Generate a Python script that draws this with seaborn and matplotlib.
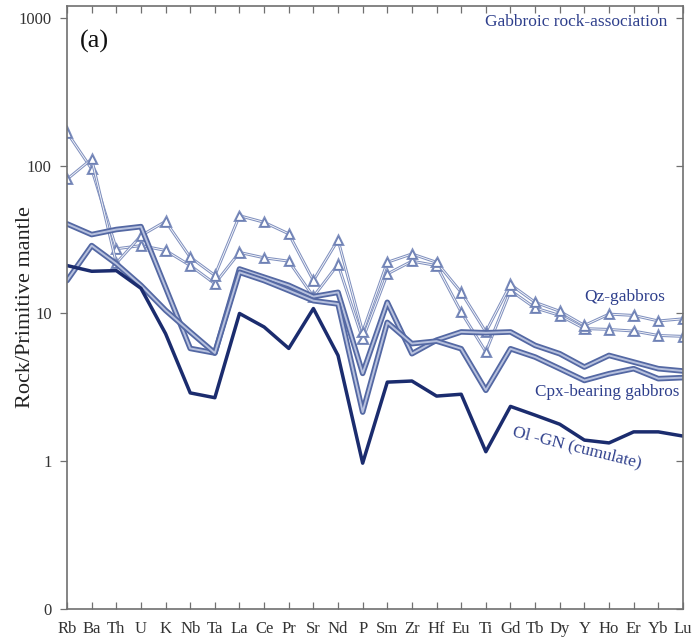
import numpy as np
import pandas as pd
import matplotlib
matplotlib.use("Agg")
import matplotlib.pyplot as plt
import matplotlib.patheffects as pe
import seaborn as sns

elements = ["Rb", "Ba", "Th", "U", "K", "Nb", "Ta", "La", "Ce", "Pr", "Sr", "Nd", "P",
            "Sm", "Zr", "Hf", "Eu", "Ti", "Gd", "Tb", "Dy", "Y", "Ho", "Er", "Yb", "Lu"]

qz_1 = [168, 95, 27.4, 28.8, 26.7, 21.1, 15.9, 25.9, 23.8, 22.6, 13.0, 21.5, 6.7,
        18.5, 22.6, 21.1, 10.2, 5.5, 14.3, 10.9, 9.7, 7.9, 7.8, 7.6, 7.1, 7.0]
qz_2 = [81, 111, 21.9, 33.6, 42, 24, 18.1, 45.9, 41.4, 34.6, 16.7, 31.5, 7.5,
        22.2, 25.3, 22.2, 13.9, 7.5, 15.7, 11.9, 10.35, 8.3, 9.9, 9.7, 8.9, 9.2]
cpx_1 = [40.4, 34.2, 37, 38.7, 15, 5.8, 5.4, 20, 17.6, 15.5, 13.0, 13.9, 3.93,
         11.9, 5.34, 6.6, 7.5, 7.4, 7.5, 6.08, 5.34, 4.34, 5.2, 4.69, 4.23, 4.08]
cpx_2 = [16.7, 28.8, 21.7, 15.5, 10.5, 7.5, 5.4, 19, 16.7, 14.3, 12.2, 11.6, 2.15,
         8.7, 6.25, 6.5, 5.77, 3.02, 5.77, 5.07, 4.23, 3.52, 3.91, 4.23, 3.62, 3.68]
ol_gn = [21.1, 19.3, 19.5, 14.8, 7.3, 2.9, 2.69, 10, 8.1, 5.8, 10.8, 5.2, 0.97,
         3.43, 3.49, 2.76, 2.84, 1.16, 2.35, 2.05, 1.78, 1.39, 1.33, 1.58, 1.58, 1.48]

ytick_vals = [0.1, 1, 10, 100, 1000]
ytick_labels = ["0", "1", "10", "100", "1000"]

sns.set_theme(style="white")
plt.rcParams["font.family"] = ["Liberation Serif", "DejaVu Serif"]

fig = plt.figure(figsize=(6.99, 6.38), dpi=100)
ax = fig.add_axes([0.0959, 0.0455, 0.977 - 0.0959, 0.9906 - 0.0455])

x = np.arange(len(elements))

def frame(vals, name):
    return pd.DataFrame({"x": x, "y": vals, "s": name})

# Qz-gabbros: thin double lines with open triangles
for vals, nm in [(qz_1, "q1"), (qz_2, "q2")]:
    sns.lineplot(data=frame(vals, nm), x="x", y="y", ax=ax, sort=False,
                 color="white", linewidth=0.6, marker="^", markersize=6,
                 markerfacecolor="white", markeredgecolor="#6d80b4",
                 markeredgewidth=0.9, estimator=None,
                 path_effects=[pe.Stroke(linewidth=2.1, foreground="#8191bf"), pe.Normal()])

# Cpx-bearing gabbros: thick double lines
for vals, nm in [(cpx_1, "c1"), (cpx_2, "c2")]:
    sns.lineplot(data=frame(vals, nm), x="x", y="y", ax=ax, sort=False,
                 color="#b7c1de", linewidth=1.4, estimator=None,
                 path_effects=[pe.Stroke(linewidth=4.0, foreground="#5468a3"), pe.Normal()])

# Ol-GN cumulate
sns.lineplot(data=frame(ol_gn, "ol"), x="x", y="y", ax=ax, sort=False,
             color="#1b2c6e", linewidth=2.5, estimator=None)

ax.set_yscale("log")
ax.set_ylim(0.1, 1205)
ax.set_xlim(0, len(elements) - 1)
ax.set_yticks(ytick_vals)
ax.set_yticklabels(ytick_labels)
ax.minorticks_off()
ax.set_xticks(x)
ax.set_xticklabels(elements)
ax.set_xlabel("")
ax.set_ylabel("Rock/Primitive mantle", fontsize=16, color="#222222")
ax.yaxis.set_label_coords(-0.052, 0.5)

for sp in ax.spines.values():
    sp.set_color("#707070")
    sp.set_linewidth(1.2)

ax.tick_params(axis="x", direction="in", length=5, width=0.9, color="#707070",
               top=True, bottom=True, labelsize=12, labelcolor="#333333", pad=8.5)
ax.tick_params(axis="y", which="both", direction="out", length=5, width=0.9,
               color="#707070", left=True, right=False, labelsize=12,
               labelcolor="#333333", pad=6)

ax_r = ax.twinx()
ax_r.set_yscale("log")
ax_r.set_ylim(ax.get_ylim())
ax_r.set_yticks(ytick_vals)
ax_r.minorticks_off()
ax_r.tick_params(axis="y", direction="in", length=5, width=0.9, color="#707070",
                 labelright=False, right=True)
ax_r.grid(False)
for sp in ax_r.spines.values():
    sp.set_visible(False)

txtc = "#2e3f8c"
ax.text(0.021, 0.942, "(a)", transform=ax.transAxes, fontsize=19, color="#111111",
        ha="left", va="center")
ax.text(0.975, 0.974, "Gabbroic rock-association", transform=ax.transAxes,
        fontsize=12.5, color=txtc, ha="right", va="center")
ax.text(21.0, 13.0, "Qz-gabbros", fontsize=12.5, color=txtc, ha="left", va="center")
ax.text(19.0, 2.92, "Cpx-bearing gabbros", fontsize=12.3, color=txtc, ha="left", va="center")
ax.text(20.7, 1.24, "Ol -GN (cumulate)", fontsize=12.5, color=txtc, ha="center",
        va="center", rotation=-14, rotation_mode="anchor")

if ax.get_legend() is not None:
    ax.get_legend().remove()

fig.savefig("out.png", dpi=100)
